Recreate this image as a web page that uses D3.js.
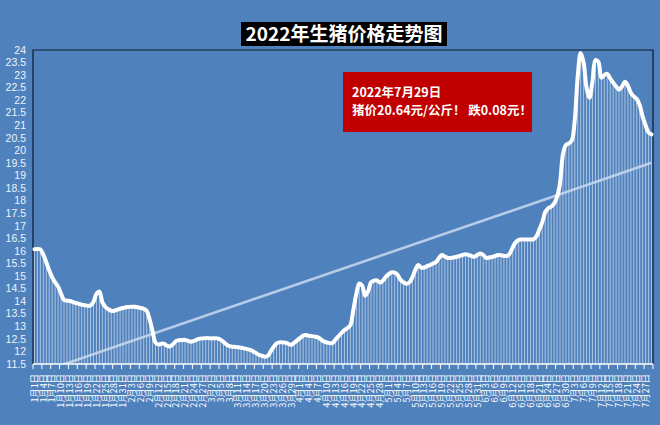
<!DOCTYPE html>
<html>
<head>
<meta charset="utf-8">
<script src="https://cdn.jsdelivr.net/npm/d3@7"></script>
<style>
    body { margin: 0; background: #4f81bd; }
    svg { display: block; }
</style>
</head>
<body>
<svg id="canvas" width="660" height="425"></svg>
<script>
// days in each month covered (Jan 1 .. Jul 29)
const monthDays = [31, 28, 31, 30, 31, 30, 29]

// daily live hog price, yuan/kg
const prices = [
    16.07, 16.08, 16.06, 15.85, 15.55, 15.22, 14.95, 14.75, 14.58, 14.30,
    14.05, 14.02, 14.01, 13.97, 13.93, 13.90, 13.86, 13.84, 13.82, 13.83,
    13.98, 14.30, 14.38, 13.95, 13.78, 13.68, 13.62, 13.62, 13.66, 13.70,
    13.73, 13.76, 13.77, 13.78, 13.78, 13.76, 13.73, 13.70, 13.62, 13.28,
    12.80, 12.35, 12.28, 12.31, 12.30, 12.22, 12.20, 12.30, 12.42, 12.45,
    12.45, 12.46, 12.42, 12.39, 12.42, 12.47, 12.51, 12.52, 12.53, 12.53,
    12.52, 12.53, 12.52, 12.47, 12.38, 12.28, 12.21, 12.19, 12.18, 12.17,
    12.15, 12.12, 12.09, 12.06, 12.01, 11.94, 11.87, 11.83, 11.79, 11.82,
    12.00, 12.18, 12.32, 12.36, 12.36, 12.35, 12.30, 12.26, 12.35, 12.44,
    12.54, 12.63, 12.65, 12.62, 12.61, 12.59, 12.56, 12.48, 12.40, 12.36,
    12.33, 12.34, 12.48, 12.61, 12.74, 12.85, 12.93, 13.05, 13.65, 14.28,
    14.70, 14.62, 14.22, 14.40, 14.75, 14.82, 14.83, 14.74, 14.82, 14.97,
    15.08, 15.15, 15.14, 15.05, 14.85, 14.75, 14.69, 14.75, 14.95, 15.25,
    15.44, 15.34, 15.34, 15.40, 15.44, 15.50, 15.56, 15.72, 15.84, 15.78,
    15.72, 15.72, 15.74, 15.77, 15.80, 15.84, 15.87, 15.84, 15.80, 15.77,
    15.84, 15.90, 15.84, 15.72, 15.74, 15.76, 15.80, 15.84, 15.83, 15.81,
    15.80, 15.90, 16.15, 16.34, 16.44, 16.46, 16.46, 16.46, 16.46, 16.46,
    16.58, 16.85, 17.15, 17.55, 17.70, 17.76, 17.88, 18.15, 18.70, 19.85,
    20.22, 20.28, 20.40, 21.20, 22.95, 23.88, 23.50, 22.50, 22.10, 22.75,
    23.60, 23.53, 22.90, 23.00, 23.05, 22.87, 22.70, 22.55, 22.42, 22.55,
    22.74, 22.58, 22.30, 22.15, 22.05, 21.80, 21.35, 21.00, 20.72, 20.64
]

const yTicks = [11.5, 12, 12.5, 13, 13.5, 14, 14.5, 15, 15.5, 16, 16.5, 17, 17.5,
    18, 18.5, 19, 19.5, 20, 20.5, 21, 21.5, 22, 22.5, 23, 23.5, 24]

const titleText = '2022年生猪价格走势图'
const noteLines = ['2022年7月29日', '猪价20.64元/公斤！ 跌0.08元！']

const cjk = '"Noto Sans CJK SC", "Noto Sans", sans-serif'

class PriceChart {
    constructor(svgSelector, values) {
        this.svg = d3.select(svgSelector)
        this.values = values
        this.left = 33
        this.right = 653
        this.top = 50
        this.bottom = 364
        this.init()
    }

    init() {
        // build "1月1日" style category labels from month lengths
        this.labels = []
        monthDays.forEach((n, m) => {
            for (let d = 1; d <= n; d++) this.labels.push(`${m + 1}月${d}日`)
        })

        const pad = 0.64
        this.x = d3.scaleBand()
            .domain(d3.range(this.values.length))
            .range([this.left, this.right])
            .paddingInner(pad)
            .paddingOuter(pad / 2)
        this.y = d3.scaleLinear()
            .domain([11.5, 24])
            .range([this.bottom, this.top])
        this.cx = i => this.x(i) + this.x.bandwidth() / 2

        this.svg.append('clipPath').attr('id', 'plot-clip')
            .append('rect')
            .attr('x', this.left).attr('y', this.top)
            .attr('width', this.right - this.left)
            .attr('height', this.bottom - this.top)

        this._drawFrame()
        this._drawBars()
        this._drawTrend()
        this._drawLine()
        this._drawAxes()
        this._drawTitle()
        this._drawNote()
    }

    _drawFrame() {
        this.svg.append('path')
            .attr('d', `M${this.left},${this.bottom}V${this.top}H${this.right}V${this.bottom}`)
            .attr('fill', 'none')
            .attr('stroke', '#0d1a2b')
            .attr('stroke-width', 1.2)
    }

    _drawBars() {
        this.svg.append('g')
            .attr('clip-path', 'url(#plot-clip)')
            .selectAll('rect')
            .data(this.values)
            .enter()
            .append('rect')
            .attr('x', (d, i) => this.x(i))
            .attr('y', d => this.y(d))
            .attr('width', this.x.bandwidth())
            .attr('height', d => this.y(11.5) - this.y(d))
            .attr('fill', '#ffffff')
            .attr('fill-opacity', 0.5)
    }

    _drawTrend() {
        // least-squares linear trend over the daily series
        const n = this.values.length
        const mx = (n - 1) / 2
        const my = d3.mean(this.values)
        let sxy = 0, sxx = 0
        this.values.forEach((v, i) => {
            sxy += (i - mx) * (v - my)
            sxx += (i - mx) * (i - mx)
        })
        const slope = sxy / sxx
        const ends = [0, n - 1].map(i => [this.cx(i), this.y(my + slope * (i - mx))])

        this.svg.append('path')
            .attr('clip-path', 'url(#plot-clip)')
            .attr('d', d3.line()(ends))
            .attr('stroke', '#c9d9ee')
            .attr('stroke-opacity', 0.85)
            .attr('stroke-width', 2.6)
            .attr('fill', 'none')
    }

    _drawLine() {
        const line = d3.line()
            .x((d, i) => this.cx(i))
            .y(d => this.y(d))
            .curve(d3.curveCatmullRom.alpha(0.5))

        this.svg.append('path')
            .datum(this.values)
            .attr('d', line)
            .attr('fill', 'none')
            .attr('stroke', '#ffffff')
            .attr('stroke-width', 4)
            .attr('stroke-linejoin', 'round')
            .attr('stroke-linecap', 'round')
    }

    _drawAxes() {
        // y labels
        this.svg.append('g')
            .selectAll('text')
            .data(yTicks)
            .enter()
            .append('text')
            .attr('x', this.left - 7)
            .attr('y', d => this.y(d))
            .attr('dy', '0.35em')
            .attr('text-anchor', 'end')
            .attr('font-size', 10.5)
            .attr('font-family', '"Liberation Sans", Arial, sans-serif')
            .attr('fill', '#eef3fa')
            .text(d => d)

        // category axis line and ticks
        const step = this.x.step()
        this.svg.append('line')
            .attr('x1', this.left).attr('x2', this.right)
            .attr('y1', this.bottom).attr('y2', this.bottom)
            .attr('stroke', '#ffffff')
            .attr('stroke-width', 1.5)

        const tickIdx = d3.range(0, this.values.length + 1, 3)
        this.svg.append('g')
            .selectAll('line')
            .data(tickIdx)
            .enter()
            .append('line')
            .attr('x1', i => this.left + i * step)
            .attr('x2', i => this.left + i * step)
            .attr('y1', this.bottom)
            .attr('y2', this.bottom + 5)
            .attr('stroke', '#ffffff')
            .attr('stroke-width', 1)

        // rotated date labels, every third day
        const labelIdx = d3.range(0, this.values.length, 3)
        this.svg.append('g')
            .selectAll('text')
            .data(labelIdx)
            .enter()
            .append('text')
            .attr('transform', i => `translate(${this.cx(i)},${this.bottom + 10}) rotate(-90)`)
            .attr('dy', '0.35em')
            .attr('text-anchor', 'end')
            .attr('font-size', 9.2)
            .attr('font-family', cjk)
            .attr('fill', '#ffffff')
            .text(i => this.labels[i])
    }

    _drawTitle() {
        this.svg.append('rect')
            .attr('x', 241).attr('y', 22)
            .attr('width', 206).attr('height', 24)
            .attr('fill', '#000000')
        this.svg.append('text')
            .attr('x', 344).attr('y', 34)
            .attr('dy', '0.36em')
            .attr('text-anchor', 'middle')
            .attr('font-size', 19)
            .attr('font-weight', 'bold')
            .attr('font-family', cjk)
            .attr('fill', '#ffffff')
            .text(titleText)
    }

    _drawNote() {
        this.svg.append('rect')
            .attr('x', 343).attr('y', 72)
            .attr('width', 189).attr('height', 60)
            .attr('fill', '#c00000')
        this.svg.append('g')
            .selectAll('text')
            .data(noteLines)
            .enter()
            .append('text')
            .attr('x', 352)
            .attr('y', (d, i) => 97 + i * 18)
            .attr('font-size', 12.5)
            .attr('font-weight', 'bold')
            .attr('font-family', cjk)
            .attr('fill', '#ffffff')
            .text(d => d)
    }
}

new PriceChart('#canvas', prices)
</script>
</body>
</html>
